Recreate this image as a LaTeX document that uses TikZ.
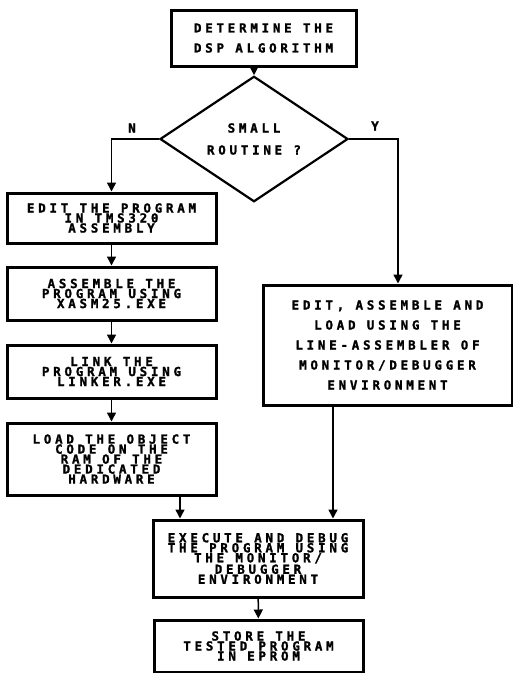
\documentclass[tikz,border=0pt]{standalone}
\usepackage{fontspec}
\usetikzlibrary{arrows.meta, positioning}
\usetikzlibrary{shapes.geometric}
\newfontfamily\plotfont{DejaVu Sans Mono}[LetterSpace=30, BoldFeatures={FakeBold=1.5}]

\begin{document}
\begin{tikzpicture}[
    x=1pt, y=-1pt,
    >={Triangle[length=9pt, width=9pt]},
    flow/.style={->, line width=1.5pt},
    procbox/.style={rectangle, draw, line width=3pt, inner sep=0pt, align=center,
        font=\plotfont\bfseries\fontsize{12.5}{20}\selectfont},
    tightbox/.style={procbox, font=\plotfont\bfseries\fontsize{12.5}{10}\selectfont},
    decision/.style={diamond, draw, line width=2.2pt, inner sep=0pt, align=center,
        font=\plotfont\bfseries\fontsize{12.5}{22}\selectfont},
    branch/.style={font=\plotfont\bfseries\fontsize{12.5}{12}\selectfont}
]
\useasboundingbox (0,0) rectangle (513,673);

% Nodes
\node[procbox, minimum width=185pt, minimum height=56pt] (algo) at (263.5,38) {DETERMINE THE\\DSP ALGORITHM};
\node[decision, minimum width=188pt, minimum height=98pt] (small) at (254,139) {SMALL\\ROUTINE ?};
\node[branch] (nmark) at (132,128) {N};
\node[branch] (ymark) at (375,126) {Y};

% Left branch
\node[tightbox, minimum width=209pt, minimum height=50pt] (edit) at (111.5,218) {EDIT THE PROGRAM\\IN TMS320\\ASSEMBLY};
\node[tightbox, minimum width=209pt, minimum height=53pt] (asm) at (111.5,293.5) {ASSEMBLE THE\\PROGRAM USING\\XASM25.EXE};
\node[tightbox, minimum width=209pt, minimum height=53pt] (link) at (111.5,371.5) {LINK THE\\PROGRAM USING\\LINKER.EXE};
\node[tightbox, minimum width=209pt, minimum height=72pt] (load) at (111.5,459) {LOAD THE OBJECT\\CODE ON THE\\RAM OF THE\\DEDICATED\\HARDWARE};

% Right branch
\node[procbox, minimum width=249pt, minimum height=120pt] (lineasm) at (387.5,345) {EDIT, ASSEMBLE AND\\LOAD USING THE\\LINE-ASSEMBLER OF\\MONITOR/DEBUGGER\\ENVIRONMENT};

% Common end
\node[tightbox, minimum width=210pt, minimum height=77pt] (debug) at (258,558.5) {EXECUTE AND DEBUG\\THE PROGRAM USING\\THE MONITOR/\\DEBUGGER\\ENVIRONMENT};
\node[tightbox, minimum width=209pt, minimum height=52pt] (store) at (258.5,646) {STORE THE\\TESTED PROGRAM\\IN EPROM};

% Connections
\draw[flow] (algo.south -| small.north) -- (small.north);
\draw[flow] (small.west) -| (edit.north);
\draw[flow] (small.east) -| ([xshift=10.5pt]lineasm.north);
\draw[flow] (edit) -- (asm);
\draw[flow] (asm) -- (link);
\draw[flow] (link) -- (load);
\draw[flow] ([xshift=68.5pt]load.south) -- ([xshift=68.5pt]load.south |- debug.north);
\draw[flow] ([xshift=-54.5pt]lineasm.south) -- ([xshift=-54.5pt]lineasm.south |- debug.north);
\draw[flow] (debug) -- (store);

\end{tikzpicture}
\end{document}
